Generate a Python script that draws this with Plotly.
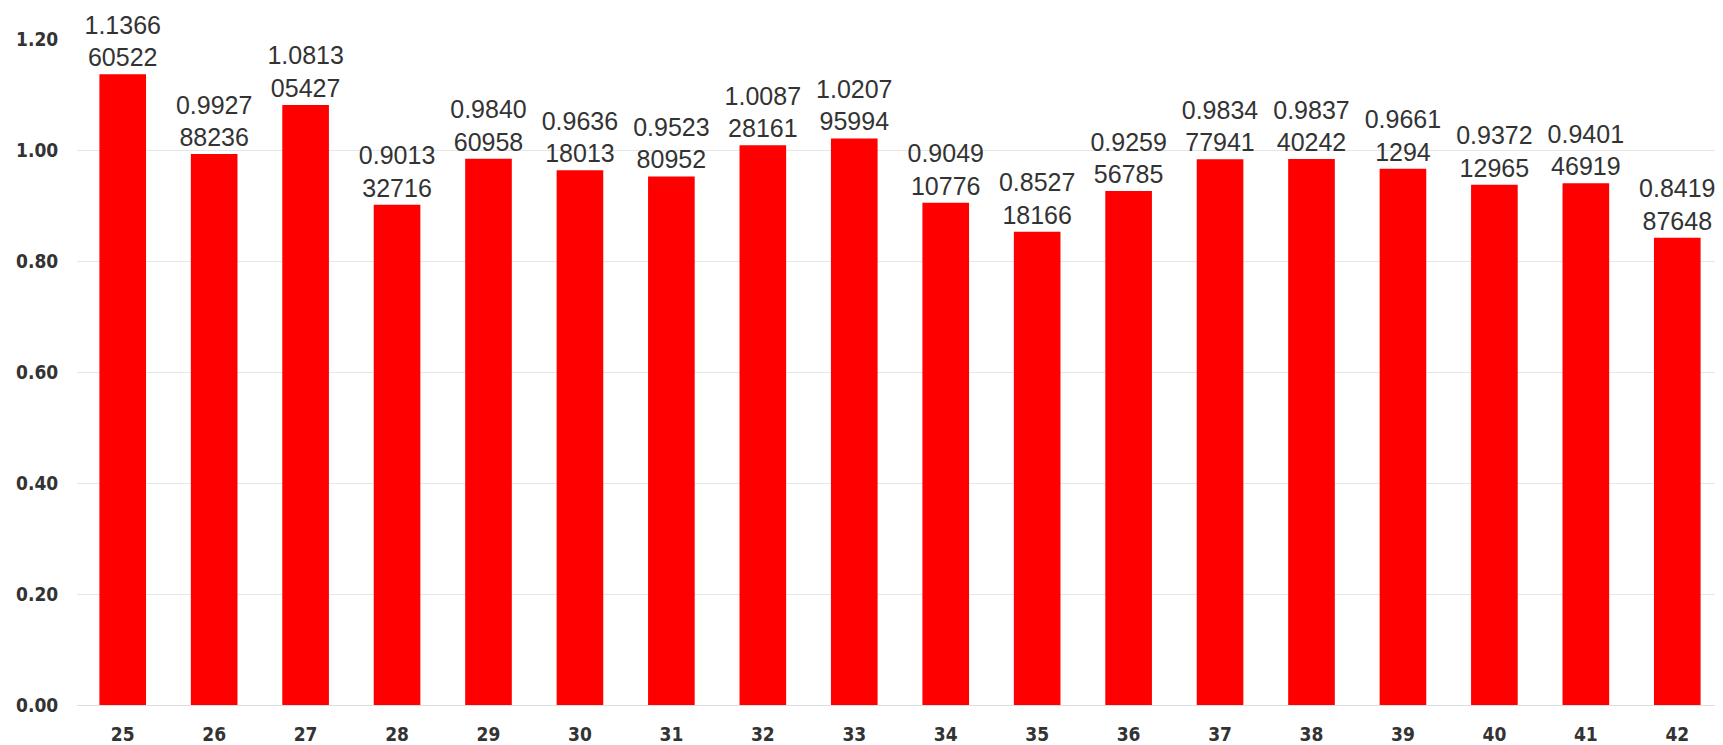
import plotly.graph_objects as go

categories = ["25", "26", "27", "28", "29", "30", "31", "32", "33",
              "34", "35", "36", "37", "38", "39", "40", "41", "42"]
values = [1.136660522, 0.992788236, 1.081305427, 0.901332716, 0.984060958,
          0.963618013, 0.952380952, 1.008728161, 1.020795994, 0.904910776,
          0.852718166, 0.925956785, 0.983477941, 0.983740242, 0.96611294,
          0.937212965, 0.940146919, 0.841987648]
value_strings = ["1.136660522", "0.992788236", "1.081305427", "0.901332716", "0.984060958",
                 "0.963618013", "0.952380952", "1.008728161", "1.020795994", "0.904910776",
                 "0.852718166", "0.925956785", "0.983477941", "0.983740242", "0.96611294",
                 "0.937212965", "0.940146919", "0.841987648"]
y_ticks = [0.0, 0.2, 0.4, 0.6, 0.8, 1.0, 1.2]

labels = [s[:6] + "<br>" + s[6:] for s in value_strings]

tick_font = dict(family="DejaVu Sans Condensed, Liberation Sans Narrow, sans-serif",
                 size=19, color="#333333", weight="bold")

fig = go.Figure(go.Bar(
    x=categories, y=values, text=labels, textposition="outside",
    constraintext="none", cliponaxis=False,
    marker=dict(color="#ff0000", line=dict(width=0)),
    width=0.51,
    textfont=dict(family="Liberation Sans, Arial, sans-serif", size=25, color="#333333"),
    hoverinfo="x+y",
))

fig.update_layout(
    width=1723, height=745,
    margin=dict(l=68, r=8, t=31, b=40),
    plot_bgcolor="white", paper_bgcolor="white",
    showlegend=False,
    xaxis=dict(
        type="category", range=[-0.5, 17.5],
        tickfont=tick_font,
        ticks="outside", ticklen=12, tickcolor="white",
        showgrid=False, showline=False, zeroline=False,
    ),
    yaxis=dict(
        range=[0, 1.2], tickvals=y_ticks, tickformat=".2f",
        tickfont=tick_font,
        ticks="outside", ticklen=14, tickcolor="white",
        showgrid=True, gridcolor="#e6e6e6", gridwidth=1,
        zeroline=True, zerolinecolor="#dddddd", zerolinewidth=1,
        showline=False,
    ),
)

fig.write_html("out.html")
